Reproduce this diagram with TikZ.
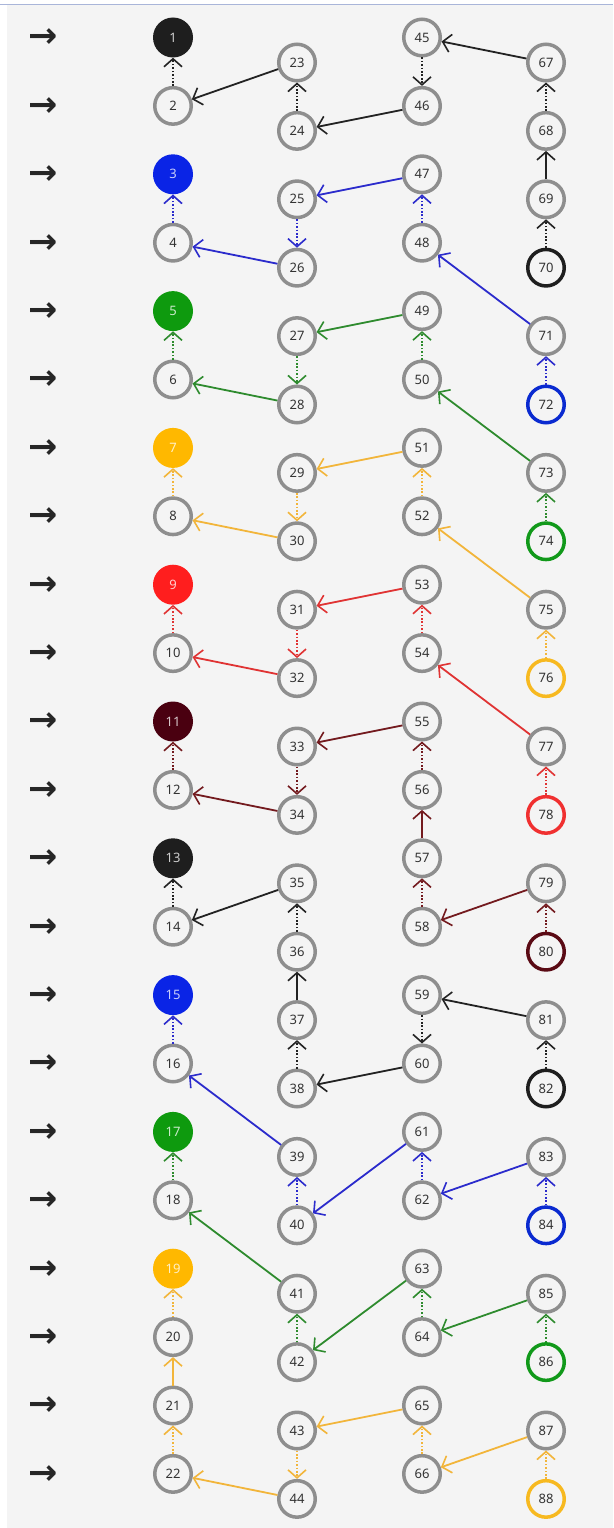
\documentclass[tikz,border=0pt]{standalone}
\usepackage{fontspec}
\setmainfont{Noto Sans}
\newfontfamily\arrowfont{DejaVu Sans}
\usetikzlibrary{arrows.meta}
\definecolor{bg}{HTML}{F4F4F4}
\definecolor{topline}{HTML}{A9B5D9}
\definecolor{ringgrey}{HTML}{8E8E8E}
\definecolor{numtxt}{HTML}{333333}
% fills (column 1)
\definecolor{fk}{HTML}{1E1E1E}
\definecolor{fb}{HTML}{0A24E6}
\definecolor{fg}{HTML}{0E9A0E}
\definecolor{fo}{HTML}{FFB800}
\definecolor{fr}{HTML}{FF1E1E}
\definecolor{fd}{HTML}{4A0010}
% edges
\definecolor{ek}{HTML}{222222}
\definecolor{eb}{HTML}{2B2BCC}
\definecolor{eg}{HTML}{2E8B2E}
\definecolor{eo}{HTML}{F2B53A}
\definecolor{er}{HTML}{E03333}
\definecolor{ed}{HTML}{731A1E}
% rings (column 4)
\definecolor{rk}{HTML}{1E1E1E}
\definecolor{rb}{HTML}{0A2AD0}
\definecolor{rg}{HTML}{11991A}
\definecolor{ro}{HTML}{F7B920}
\definecolor{rr}{HTML}{F03030}
\definecolor{rd}{HTML}{5A0A14}
\begin{document}
\begin{tikzpicture}[x=1pt,y=-1pt,
  nd/.style={circle,minimum size=36.5pt,inner sep=0pt,line width=3.5pt,
    font=\fontsize{13}{13}\selectfont,text=numtxt},
  pl/.style={nd,draw=ringgrey},
  fl/.style={circle,minimum size=40pt,inner sep=0pt,draw=none,
    font=\fontsize{13}{13}\selectfont,fill=#1,text=white!78!#1},
  rg/.style={nd,draw=#1},
  tip/.style={-{Straight Barb[length=8pt,width=18pt,line width=1.6pt]}},
  dt/.style={tip,draw=#1,line width=1.8pt,dash pattern=on 1.6pt off 1.8pt},
  sl/.style={tip,draw=#1,line width=1.8pt},
  la/.style={font=\arrowfont\bfseries\fontsize{35}{35}\selectfont,text=black!85,inner sep=0pt}
]
\useasboundingbox (0,0) rectangle (613,1528);
\fill[white] (0,0) rectangle (613,1528);
\fill[bg] (7,5) rectangle (613,1528);
\draw[topline,line width=1pt] (0,4.5) -- (613,4.5);

% left arrows
\foreach \r in {1,...,22}
  \node[la] (a\r) at (43,{38.5+68.4*(\r-1)}) {→};

% column 1
\foreach \i/\s in {1/fk,3/fb,5/fg,7/fo,9/fr,11/fd,13/fk,15/fb,17/fg,19/fo}
  \node[fl=\s] (n\i) at (173,{37.5+68.4*(\i-1)}) {\i};
\foreach \i in {2,4,6,8,10,12,14,16,18,20,21,22}
  \node[pl] (n\i) at (173,{37.5+68.4*(\i-1)}) {\i};
% column 2
\foreach \i in {23,...,44}
  \node[pl] (n\i) at (297,{62.5+68.4*(\i-23)}) {\i};
% column 3
\foreach \i in {45,...,66}
  \node[pl] (n\i) at (422,{37.5+68.4*(\i-45)}) {\i};
% column 4
\foreach \i in {67,68,69,71,73,75,77,79,81,83,85,87}
  \node[pl] (n\i) at (546,{62.5+68.4*(\i-67)}) {\i};
\foreach \i/\s in {70/rk,72/rb,74/rg,76/ro,78/rr,80/rd,82/rk,84/rb,86/rg,88/ro}
  \node[rg=\s] (n\i) at (546,{62.5+68.4*(\i-67)}) {\i};

% dotted vertical edges
\foreach \a/\b/\c in {2/1/ek,4/3/eb,6/5/eg,8/7/eo,10/9/er,12/11/ed,14/13/ek,16/15/eb,18/17/eg,20/19/eo,22/21/eo,
  24/23/ek,25/26/eb,27/28/eg,29/30/eo,31/32/er,33/34/ed,36/35/ek,38/37/ek,40/39/eb,42/41/eg,43/44/eo,
  45/46/ek,48/47/eb,50/49/eg,52/51/eo,54/53/er,56/55/ed,58/57/ed,59/60/ek,62/61/eb,64/63/eg,66/65/eo,
  68/67/ek,70/69/ek,72/71/eb,74/73/eg,76/75/eo,78/77/er,80/79/ed,82/81/ek,84/83/eb,86/85/eg,88/87/eo}
  \draw[dt=\c] (n\a) -- (n\b);

% solid edges
\foreach \a/\b/\c in {21/20/eo,37/36/ek,57/56/ed,69/68/ek,
  23/2/ek,46/24/ek,67/45/ek,47/25/eb,26/4/eb,71/48/eb,49/27/eg,28/6/eg,73/50/eg,
  51/29/eo,30/8/eo,75/52/eo,53/31/er,32/10/er,77/54/er,55/33/ed,34/12/ed,79/58/ed,
  35/14/ek,60/38/ek,81/59/ek,39/16/eb,61/40/eb,83/62/eb,41/18/eg,63/42/eg,85/64/eg,
  65/43/eo,44/22/eo,87/66/eo}
  \draw[sl=\c] (n\a) -- (n\b);
\end{tikzpicture}
\end{document}
